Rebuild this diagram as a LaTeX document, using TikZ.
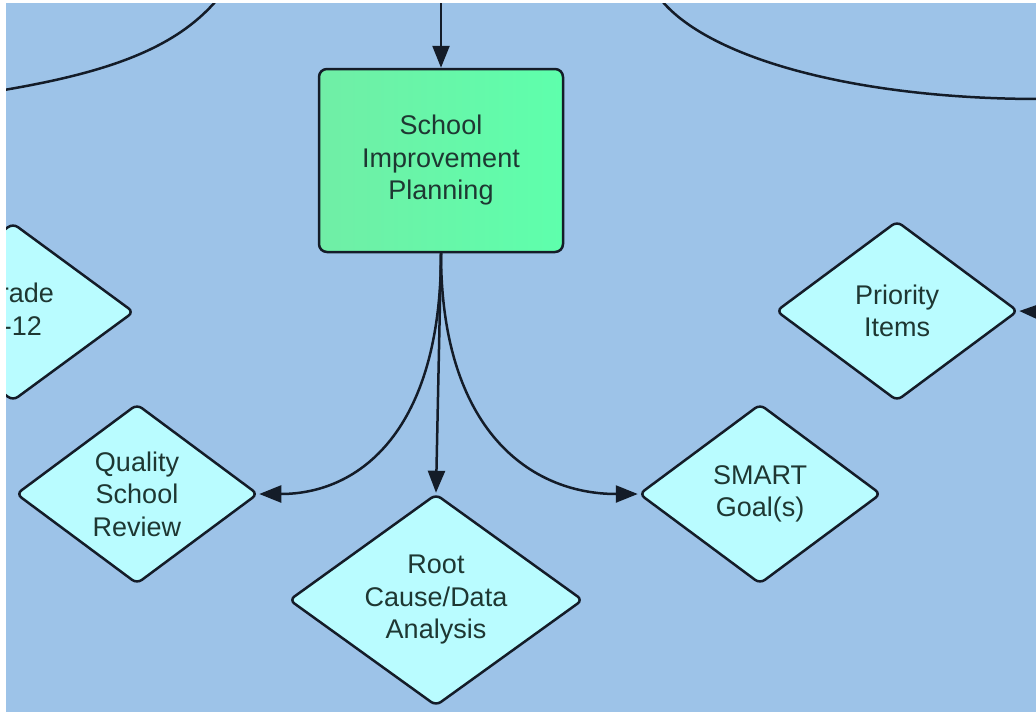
\documentclass[tikz,border=0pt]{standalone}
\usepackage{fontspec}
\setmainfont{Liberation Sans}
\usetikzlibrary{shapes.geometric,arrows.meta}
\definecolor{bgblue}{RGB}{157,195,232}
\definecolor{dfill}{RGB}{185,252,255}
\definecolor{gleft}{RGB}{112,238,166}
\definecolor{gright}{RGB}{94,255,172}
\definecolor{ink}{RGB}{20,28,40}
\definecolor{txt}{RGB}{30,55,50}
\tikzset{
  dia/.style={shape=diamond, draw=ink, line width=2.5pt, fill=dfill, rounded corners=6pt,
    inner sep=0pt, align=center, text=txt, font=\fontsize{27}{32.5}\selectfont},
  box/.style={shape=rectangle, draw=ink, line width=2.5pt, rounded corners=8pt,
    left color=gleft, right color=gright, align=center, text=txt,
    font=\fontsize{27}{32.5}\selectfont},
  conn/.style={draw=ink, line width=2.5pt, -{Triangle[length=22pt,width=17pt]}},
  plain/.style={draw=ink, line width=2.5pt},
}
\begin{document}
\begin{tikzpicture}[x=1pt,y=-1pt]
\useasboundingbox (0,0) rectangle (1036,712);
\fill[white] (0,0) rectangle (1036,712);
\fill[bgblue] (6,3) rectangle (1036,712);
\begin{scope}
\clip (6,3) rectangle (1036,712);
% decorative arcs at top
\coordinate (tlA) at (4,90);
\coordinate (tlB) at (216,1);
\draw[plain] (tlA) .. controls (110,72) and (175,48) .. (tlB);
\coordinate (trA) at (662,1);
\coordinate (trB) at (1040,99);
\draw[plain] (trA) .. controls (712,60) and (860,99) .. (trB);
% nodes
\node[box, minimum width=244pt, minimum height=183pt] (sip) at (441,160.5) {School\\Improvement\\Planning};
\node[dia, aspect=1.35, minimum width=242pt, minimum height=180pt] (prio) at (897,311) {Priority\\Items};
\node[dia, aspect=1.35, minimum width=242pt, minimum height=180pt] (qsr) at (137,494) {Quality\\School\\Review};
\node[dia, aspect=1.35, minimum width=242pt, minimum height=180pt] (smart) at (760,494) {SMART\\Goal(s)};
\node[dia, aspect=1.39, minimum width=294pt, minimum height=212pt] (root) at (436,600) {Root\\Cause/Data\\Analysis};
\node[dia, aspect=1.35, minimum width=242pt, minimum height=178pt] (grade) at (13,312) {};
\node[anchor=east, align=right, text=txt, inner sep=0pt, font=\fontsize{27}{32.5}\selectfont] (gradetxt) at (54,309) {rade\\-12\hspace*{12pt}};
% connectors
\coordinate (topin) at (441,0);
\draw[conn] (topin) -- (sip.north);
\draw[conn] (sip.south) -- (root.north);
\draw[conn] (sip.south) .. controls (441,430) and (360,494) .. (qsr.east);
\draw[conn] (sip.south) .. controls (441,430) and (530,494) .. (smart.west);
\coordinate (rightin) at (1040,312);
\draw[conn] (rightin) -- (prio.east);
\end{scope}
\end{tikzpicture}
\end{document}
